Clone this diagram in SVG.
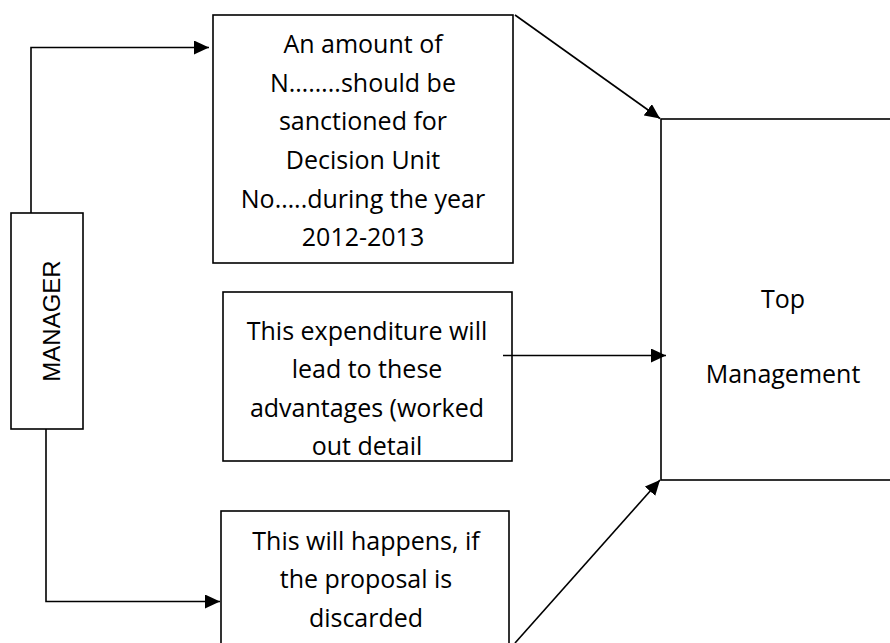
<svg xmlns="http://www.w3.org/2000/svg" width="890" height="643" viewBox="0 0 890 643">
<style>
.box{fill:#fff;stroke:#000;stroke-width:1.6}
.t{font-family:"Open Sans","Noto Sans",sans-serif;font-size:25px;fill:#000;text-anchor:middle}
.m{font-family:"Liberation Sans",Arial,sans-serif;font-size:24px;fill:#000;text-anchor:middle}
.c{fill:none;stroke:#000;stroke-width:1.6}
</style>
<defs>
<marker id="ah" markerUnits="userSpaceOnUse" markerWidth="16" markerHeight="14" refX="15" refY="7" orient="auto">
<path d="M0,0 L15,7 L0,14 z" fill="#000"/>
</marker>
</defs>
<rect width="890" height="643" fill="#fff"/>
<g id="manager">
<rect class="box" x="11" y="213" width="72" height="216"/>
<text class="m" transform="translate(60,321) rotate(-90)">MANAGER</text>
</g>
<g id="amount">
<rect class="box" x="213" y="15" width="300" height="248"/>
<text class="t" x="363" y="53">An amount of</text>
<text class="t" x="363" y="92">N……..should be</text>
<text class="t" x="363" y="130">sanctioned for</text>
<text class="t" x="363" y="169">Decision Unit</text>
<text class="t" x="363" y="208">No…..during the year</text>
<text class="t" x="363" y="246">2012-2013</text>
</g>
<g id="advantages">
<rect class="box" x="223" y="292" width="289" height="169"/>
<text class="t" x="367" y="340">This expenditure will</text>
<text class="t" x="367" y="378">lead to these</text>
<text class="t" x="367" y="417">advantages (worked</text>
<text class="t" x="367" y="455">out detail</text>
</g>
<g id="discarded">
<rect class="box" x="221" y="511" width="288" height="150"/>
<text class="t" x="366" y="550">This will happens, if</text>
<text class="t" x="366" y="588">the proposal is</text>
<text class="t" x="366" y="627">discarded</text>
</g>
<g id="top-management">
<rect class="box" x="661" y="119" width="260" height="361"/>
<text class="t" x="783" y="308">Top</text>
<text class="t" x="783" y="383">Management</text>
</g>
<g id="connectors">
<path class="c" d="M31,213 V47.5 H209" marker-end="url(#ah)"/>
<path class="c" d="M46,429 V601.5 H220" marker-end="url(#ah)"/>
<path class="c" d="M503,355.5 H666" marker-end="url(#ah)"/>
<path class="c" d="M515,15 L660,118.5" marker-end="url(#ah)"/>
<path class="c" d="M515,643 L660,480" marker-end="url(#ah)"/>
</g>
</svg>
